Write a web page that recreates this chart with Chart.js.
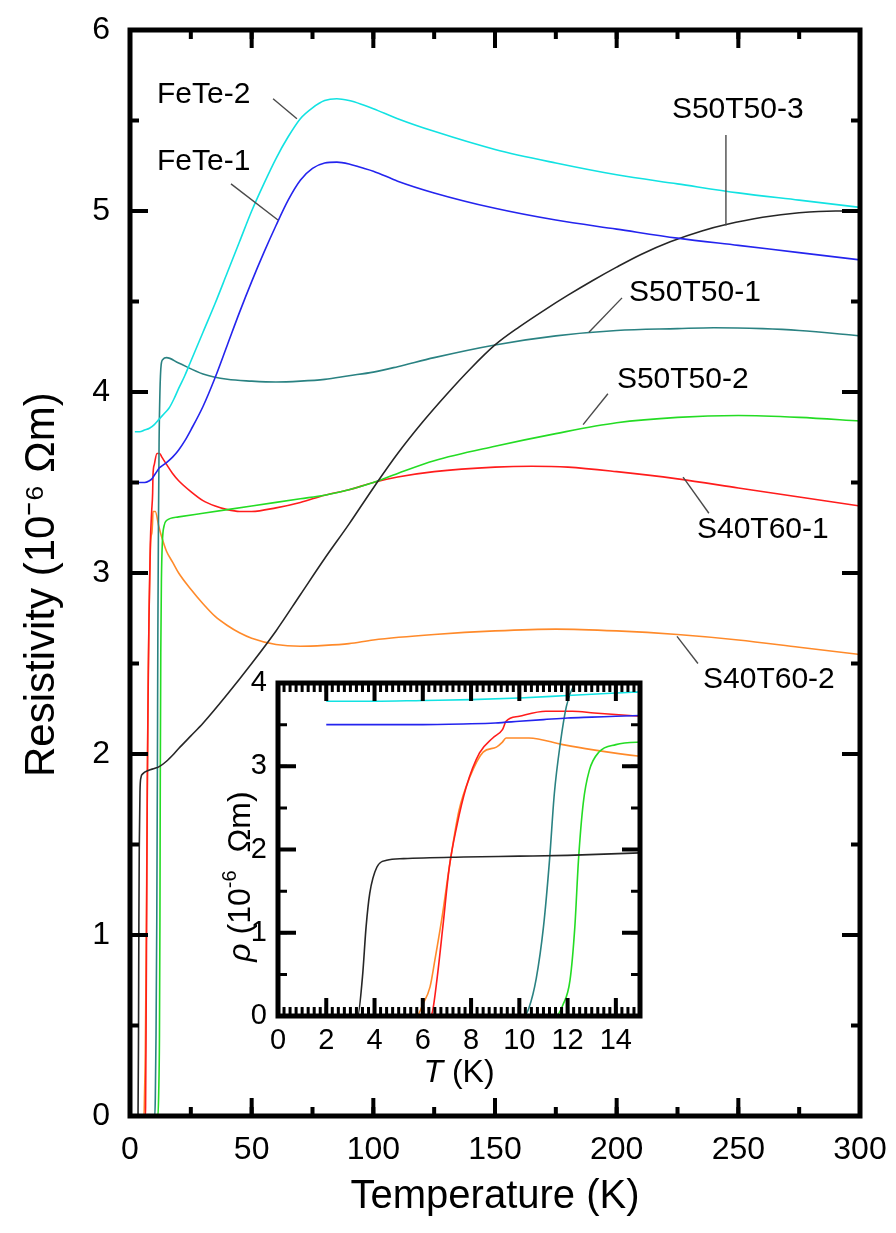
<!DOCTYPE html>
<html>
<head>
<meta charset="utf-8">
<script src="https://cdn.jsdelivr.net/npm/chart.js@4"></script>
<style>
body{margin:0;background:#fff;}
#wrap{position:relative;width:896px;height:1233px;}
#mainCanvas{position:absolute;left:0;top:0;}
#insetCanvas{position:absolute;left:190px;top:640px;}
</style>
</head>
<body>
<div id="wrap">
<canvas id="mainCanvas" width="896" height="1233"></canvas>
<canvas id="insetCanvas" width="480" height="470"></canvas>
</div>
<script>
// T in K, rho in 10^-6 Ohm m
var fete2T = [2, 4, 6, 8, 10, 12, 14, 16, 18, 20, 22.5, 25, 30, 35, 40, 45, 50, 55, 60, 65, 70, 75, 80, 85, 90, 95, 100, 110, 125, 150, 175, 200, 225, 250, 275, 300];
var fete2R = [3.78, 3.78, 3.79, 3.80, 3.82, 3.85, 3.88, 3.91, 3.96, 4.02, 4.09, 4.17, 4.33, 4.49, 4.66, 4.83, 5.0, 5.15, 5.29, 5.41, 5.51, 5.57, 5.61, 5.62, 5.61, 5.59, 5.565, 5.51, 5.44, 5.34, 5.265, 5.2, 5.15, 5.1, 5.06, 5.02];

var fete1T = [2, 4, 6, 8, 9, 10, 11, 12, 13, 14, 15, 17.5, 20, 22.5, 25, 30, 35, 40, 45, 50, 55, 60, 65, 70, 75, 80, 85, 90, 95, 100, 110, 125, 150, 175, 200, 225, 250, 275, 300];
var fete1R = [3.5, 3.5, 3.5, 3.51, 3.52, 3.54, 3.56, 3.58, 3.59, 3.6, 3.61, 3.64, 3.68, 3.73, 3.79, 3.92, 4.08, 4.26, 4.44, 4.61, 4.77, 4.92, 5.06, 5.17, 5.235, 5.265, 5.27, 5.26, 5.24, 5.22, 5.165, 5.1, 5.015, 4.95, 4.9, 4.85, 4.81, 4.77, 4.73];

var s5053T = [2, 3.3, 3.5, 3.65, 3.8, 4.1, 4.5, 5.2, 7.7, 10, 12, 15, 18, 20, 25, 30, 40, 50, 60, 70, 80, 90, 100, 110, 120, 130, 140, 150, 160, 170, 180, 190, 200, 210, 222, 235, 245, 260, 275, 290, 300];
var s5053R = [0, 0, 0.47, 1.07, 1.47, 1.79, 1.87, 1.89, 1.91, 1.92, 1.93, 1.96, 2.0, 2.03, 2.1, 2.17, 2.33, 2.5, 2.68, 2.88, 3.08, 3.27, 3.47, 3.66, 3.83, 3.985, 4.13, 4.26, 4.36, 4.45, 4.535, 4.615, 4.69, 4.76, 4.83, 4.89, 4.925, 4.965, 4.99, 5.0, 5.0];

var s5051T = [2, 10.2, 10.4, 10.7, 11, 11.25, 11.45, 11.7, 11.95, 12.3, 12.8, 13.5, 15, 20, 30, 40, 50, 60, 70, 80, 90, 100, 110, 125, 150, 175, 200, 225, 240, 260, 275, 300];
var s5051R = [0, 0, 0.1, 0.45, 1.07, 1.87, 2.67, 3.28, 3.72, 4.0, 4.15, 4.18, 4.19, 4.16, 4.1, 4.07, 4.06, 4.055, 4.06, 4.07, 4.09, 4.11, 4.14, 4.19, 4.26, 4.31, 4.34, 4.35, 4.355, 4.35, 4.34, 4.31];

var s5052T = [2, 11.5, 11.8, 12.1, 12.3, 12.45, 12.65, 12.9, 13.3, 14, 15, 20, 30, 40, 50, 60, 70, 80, 90, 100, 110, 125, 150, 175, 200, 225, 250, 275, 300];
var s5052R = [0, 0, 0.13, 0.43, 1.07, 1.87, 2.56, 2.95, 3.17, 3.26, 3.29, 3.31, 3.33, 3.35, 3.37, 3.39, 3.41, 3.43, 3.46, 3.5, 3.55, 3.62, 3.7, 3.77, 3.83, 3.86, 3.87, 3.86, 3.84];

var s4061T = [2, 6.3, 6.4, 6.6, 6.83, 7.1, 7.4, 7.8, 8.35, 8.9, 9.3, 9.45, 10, 11.1, 12.2, 13.1, 15, 17.5, 20, 25, 30, 35, 40, 45, 50, 60, 70, 80, 90, 100, 110, 125, 150, 165, 180, 200, 225, 250, 275, 300];
var s4061R = [0, 0, 0.05, 0.47, 1.07, 1.79, 2.27, 2.75, 3.16, 3.34, 3.44, 3.54, 3.6, 3.66, 3.66, 3.64, 3.6, 3.55, 3.51, 3.45, 3.4, 3.37, 3.35, 3.34, 3.34, 3.36, 3.39, 3.43, 3.46, 3.5, 3.53, 3.56, 3.585, 3.59, 3.585, 3.56, 3.52, 3.47, 3.42, 3.37];

var s4062T = [2, 5.75, 6.0, 6.3, 6.5, 6.8, 7.1, 7.5, 7.95, 8.5, 9.05, 9.3, 9.45, 10.4, 11.8, 13, 15, 17.5, 20, 25, 30, 35, 40, 45, 50, 60, 70, 80, 90, 100, 125, 150, 175, 200, 225, 250, 275, 300];
var s4062R = [0, 0, 0.14, 0.35, 0.67, 1.19, 1.79, 2.47, 2.87, 3.17, 3.23, 3.29, 3.34, 3.34, 3.26, 3.2, 3.12, 3.06, 3.0, 2.91, 2.83, 2.76, 2.71, 2.67, 2.64, 2.605, 2.595, 2.6, 2.61, 2.63, 2.66, 2.68, 2.69, 2.68, 2.66, 2.63, 2.59, 2.55];

var samples = [
  { name: 'FeTe-2',   t: fete2T, r: fete2R, color: '#12e2e2' },
  { name: 'FeTe-1',   t: fete1T, r: fete1R, color: '#2424ee' },
  { name: 'S50T50-3', t: s5053T, r: s5053R, color: '#262626' },
  { name: 'S50T50-1', t: s5051T, r: s5051R, color: '#2a8282' },
  { name: 'S50T50-2', t: s5052T, r: s5052R, color: '#24dc24' },
  { name: 'S40T60-1', t: s4061T, r: s4061R, color: '#ff1c1c' },
  { name: 'S40T60-2', t: s4062T, r: s4062R, color: '#ff8a2a' }
];

// label text, anchor (T, rho) and leader line (T1, rho1, T2, rho2)
var notes = [
  { text: 'FeTe-2',   at: [11.1, 5.64],  line: [58.8, 5.62, 68.6, 5.51] },
  { text: 'FeTe-1',   at: [11.1, 5.27],  line: [41.5, 5.15, 60.8, 4.95] },
  { text: 'S50T50-3', at: [222.7, 5.56], line: [244.9, 5.42, 244.9, 4.92] },
  { text: 'S50T50-1', at: [205.1, 4.55], line: [202.2, 4.52, 188.6, 4.33] },
  { text: 'S50T50-2', at: [200.1, 4.07], line: [196.4, 3.99, 186.2, 3.82] },
  { text: 'S40T60-1', at: [233.0, 3.24], line: [237.9, 3.33, 227.3, 3.53] },
  { text: 'S40T60-2', at: [235.5, 2.41], line: [233.4, 2.50, 224.8, 2.65] }
];

var FONT = '"Liberation Sans", Arial, sans-serif';
Chart.defaults.font.family = FONT;
Chart.defaults.color = '#000';

function makeSets(w){
  return samples.map(function(s){
    return {
      label: s.name,
      data: s.t.map(function(t, i){ return { x: t, y: s.r[i] }; }),
      borderColor: s.color,
      borderWidth: w,
      pointRadius: 0,
      fill: false,
      cubicInterpolationMode: 'monotone'
    };
  });
}

var frameTicks = {
  id: 'frameTicks',
  afterDatasetsDraw: function(chart, args, o){
    var ctx = chart.ctx, a = chart.chartArea;
    ctx.save();
    ctx.strokeStyle = '#000';
    function marks(sc, step, len, w){
      var n = Math.round((sc.max - sc.min) / step);
      ctx.lineWidth = w;
      ctx.beginPath();
      for (var i = 1; i <= n; i++) {
        var v = sc.min + i * step;
        if (v >= sc.max) break;
        var p = sc.getPixelForValue(v);
        if (sc.isHorizontal()) {
          ctx.moveTo(p, a.bottom); ctx.lineTo(p, a.bottom - len);
          ctx.moveTo(p, a.top); ctx.lineTo(p, a.top + len);
        } else {
          ctx.moveTo(a.left, p); ctx.lineTo(a.left + len, p);
          ctx.moveTo(a.right, p); ctx.lineTo(a.right - len, p);
        }
      }
      ctx.stroke();
    }
    marks(chart.scales.x, o.xMinor, o.minorLen, o.minorW);
    marks(chart.scales.x, o.xMajor, o.majorLen, o.majorW);
    marks(chart.scales.y, o.yMinor, o.minorLen, o.minorW);
    marks(chart.scales.y, o.yMajor, o.majorLen, o.majorW);
    ctx.lineWidth = o.frame;
    ctx.strokeRect(a.left, a.top, a.width, a.height);
    ctx.restore();
  }
};

var notesPlugin = {
  id: 'notes',
  afterDatasetsDraw: function(chart, args, o){
    var ctx = chart.ctx, xs = chart.scales.x, ys = chart.scales.y;
    ctx.save();
    ctx.font = o.size + 'px ' + FONT;
    ctx.fillStyle = '#000';
    ctx.textBaseline = 'middle';
    ctx.strokeStyle = '#4a4a4a';
    ctx.lineWidth = 1.4;
    notes.forEach(function(n){
      ctx.beginPath();
      ctx.moveTo(xs.getPixelForValue(n.line[0]), ys.getPixelForValue(n.line[1]));
      ctx.lineTo(xs.getPixelForValue(n.line[2]), ys.getPixelForValue(n.line[3]));
      ctx.stroke();
      ctx.fillText(n.text, xs.getPixelForValue(n.at[0]), ys.getPixelForValue(n.at[1]));
    });
    ctx.restore();
  }
};

// draws a run of text pieces (font/offset per piece) centred on 0,0
function drawRuns(ctx, runs){
  var total = 0;
  runs.forEach(function(r){ ctx.font = r.f; r.w = ctx.measureText(r.t).width; total += r.w; });
  var x = -total / 2;
  runs.forEach(function(r){
    ctx.font = r.f;
    ctx.fillText(r.t, x, r.dy || 0);
    x += r.w;
  });
}

var insetTitles = {
  id: 'insetTitles',
  afterDraw: function(chart, args, o){
    var ctx = chart.ctx, a = chart.chartArea;
    var f = o.size + 'px ' + FONT, fi = 'italic ' + f, fs = Math.round(o.size * 0.62) + 'px ' + FONT;
    ctx.save();
    ctx.fillStyle = '#000';
    ctx.textBaseline = 'middle';
    ctx.translate((a.left + a.right) / 2, a.bottom + o.xOff);
    drawRuns(ctx, [{ t: 'T', f: fi }, { t: ' (K)', f: f }]);
    ctx.restore();
    ctx.save();
    ctx.fillStyle = '#000';
    ctx.textBaseline = 'middle';
    ctx.translate(a.left - o.yOff, (a.top + a.bottom) / 2 + o.yShift);
    ctx.rotate(-Math.PI / 2);
    drawRuns(ctx, [{ t: '\u03c1', f: fi }, { t: ' (10', f: f }, { t: '-6', f: fs, dy: -11 }, { t: '  \u03a9m)', f: f }]);
    ctx.restore();
  }
};

var mainChart = new Chart(document.getElementById('mainCanvas').getContext('2d'), {
  type: 'line',
  data: { datasets: makeSets(1.6) },
  plugins: [frameTicks, notesPlugin],
  options: {
    responsive: false,
    animation: false,
    layout: { padding: { left: 0, right: 36, top: 30, bottom: 0 } },
    plugins: {
      legend: { display: false },
      tooltip: { enabled: false },
      frameTicks: { xMajor: 50, xMinor: 25, yMajor: 1, yMinor: 0.5, majorLen: 18, minorLen: 9, majorW: 4, minorW: 4, frame: 5 },
      notes: { size: 30 }
    },
    scales: {
      x: {
        type: 'linear', min: 0, max: 300,
        grid: { display: false, drawTicks: true, tickLength: 12 },
        border: { display: false },
        ticks: { stepSize: 50, autoSkip: false, maxRotation: 0, padding: 3, font: { size: 32 }, color: '#000' },
        title: { display: true, text: 'Temperature (K)', font: { size: 40 }, color: '#000', padding: { top: 0, bottom: 12 } },
        afterFit: function(sc){ sc.height = 117; }
      },
      y: {
        type: 'linear', min: 0, max: 6,
        grid: { display: false, drawTicks: true, tickLength: 10 },
        border: { display: false },
        ticks: { stepSize: 1, autoSkip: false, padding: 10, font: { size: 32 }, color: '#000' },
        title: { display: true, text: 'Resistivity (10\u207b\u2076 \u03a9m)  ', font: { size: 42 }, color: '#000', padding: { top: 17, bottom: 0 } },
        afterFit: function(sc){ sc.width = 130; }
      }
    }
  }
});

var insetChart = new Chart(document.getElementById('insetCanvas').getContext('2d'), {
  type: 'line',
  data: { datasets: makeSets(1.6) },
  plugins: [frameTicks, insetTitles],
  options: {
    responsive: false,
    animation: false,
    layout: { padding: { left: 0, right: 30, top: 43, bottom: 0 } },
    plugins: {
      legend: { display: false },
      tooltip: { enabled: false },
      frameTicks: { xMajor: 2, xMinor: 0.25, yMajor: 1, yMinor: 0.5, majorLen: 18, minorLen: 9, majorW: 4, minorW: 3, frame: 5 },
      insetTitles: { size: 32, xOff: 57, yOff: 37, yShift: 27 }
    },
    scales: {
      x: {
        type: 'linear', min: 0, max: 15,
        grid: { display: false, drawTicks: true, tickLength: 5 },
        border: { display: false },
        ticks: { stepSize: 2, includeBounds: false, autoSkip: false, maxRotation: 0, padding: 3, font: { size: 29 }, color: '#000' },
        afterFit: function(sc){ sc.height = 94; }
      },
      y: {
        type: 'linear', min: 0, max: 4,
        grid: { display: false, drawTicks: true, tickLength: 6 },
        border: { display: false },
        ticks: { stepSize: 1, autoSkip: false, padding: 5, font: { size: 29 }, color: '#000' },
        afterFit: function(sc){ sc.width = 88; }
      }
    }
  }
});
</script>
</body>
</html>
